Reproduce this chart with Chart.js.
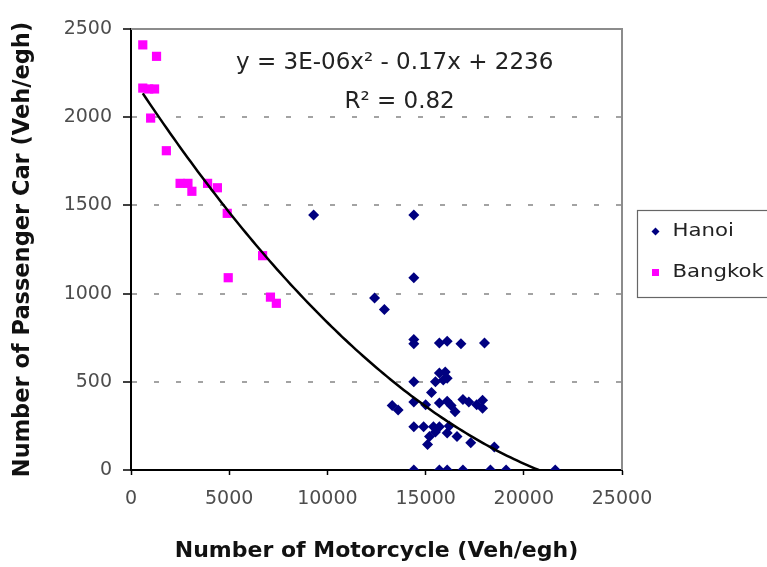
<!DOCTYPE html>
<html>
<head>
<meta charset="utf-8">
<title>Passenger cars vs motorcycles</title>
<script src="https://cdn.jsdelivr.net/npm/chart.js@4.4.1/dist/chart.umd.min.js"></script>
<style>
  html, body { margin: 0; padding: 0; background: #fff; }
  #wrap { width: 767px; height: 567px; }
  canvas { display: block; }
</style>
</head>
<body>
<div id="wrap"><canvas id="chart" width="767" height="567"></canvas></div>
<script>
// Observed flows (veh/egh) per site
const seriesNames = ['Hanoi', 'Bangkok'];

const hanoiMotorcycles = [9300, 14400, 14400, 12400, 12900, 14400, 14400, 15700, 16100, 16800, 18000,
  15700, 16000, 15900, 15500, 16100, 14400, 15300, 13300, 13600, 14400, 15000, 15700, 16100, 16900,
  17200, 17900, 17900, 16500, 16300, 17600, 14400, 14900, 15400, 15700, 16200, 16100, 16600, 15500,
  15200, 15100, 17300, 18500, 14400, 15700, 16100, 16900, 18300, 19100, 21600];
const hanoiCars = [1445, 1445, 1090, 975, 910, 740, 715, 720, 730, 715, 720,
  550, 555, 510, 500, 520, 500, 440, 365, 340, 385, 370, 380, 390, 400,
  385, 395, 350, 330, 365, 370, 245, 245, 245, 245, 250, 210, 190, 215,
  190, 145, 155, 130, 0, 0, 0, 0, 0, 0, 0];

const bangkokMotorcycles = [600, 1300, 600, 900, 1200, 1000, 1800, 2500, 2900, 3100, 3900, 4400, 4900, 6700, 4950, 7100, 7400];
const bangkokCars = [2410, 2345, 2165, 2160, 2160, 1995, 1810, 1625, 1625, 1580, 1625, 1600, 1455, 1215, 1090, 980, 945];

const xTicks = [0, 5000, 10000, 15000, 20000, 25000];
const yTicks = [0, 500, 1000, 1500, 2000, 2500];

// Polynomial trend: y = a*x^2 + b*x + c
const trendCoef = [3e-6, -0.17, 2236];
const trendSpan = [600, 21600];
const trendLabel = 'y = 3E-06x\u00B2 - 0.17x + 2236';
const r2Label = 'R\u00B2 = 0.82';

const xTitle = 'Number of Motorcycle (Veh/egh)';
const yTitle = 'Number of Passenger Car (Veh/egh)';

const HANOI_COLOR = '#000080';
const BANGKOK_COLOR = '#ff00ff';
const FONT = 'DejaVu Sans';

function toPoints(xs, ys) {
  return xs.map((x, i) => ({ x: x, y: ys[i] }));
}

function trendPoints() {
  const pts = [];
  const n = 120;
  const [a, b, c] = trendCoef;
  for (let i = 0; i <= n; i++) {
    const x = trendSpan[0] + (trendSpan[1] - trendSpan[0]) * i / n;
    pts.push({ x: x, y: a * x * x + b * x + c });
  }
  return pts;
}

// Grey frame on the top and right of the plot area
const plotFrame = {
  id: 'plotFrame',
  beforeDatasetsDraw(chart) {
    const { ctx, chartArea: a } = chart;
    ctx.save();
    ctx.strokeStyle = '#8c8c8c';
    ctx.lineWidth = 2;
    ctx.beginPath();
    ctx.moveTo(a.left, a.top);
    ctx.lineTo(a.right, a.top);
    ctx.lineTo(a.right, a.bottom);
    ctx.stroke();
    ctx.restore();
  }
};

// Trend equation and R² inside the plot
const trendText = {
  id: 'trendText',
  afterDatasetsDraw(chart) {
    const { ctx, chartArea: a } = chart;
    ctx.save();
    ctx.fillStyle = '#222';
    ctx.font = '23px "' + FONT + '"';
    ctx.textAlign = 'center';
    ctx.textBaseline = 'middle';
    ctx.fillText(trendLabel, a.left + 0.537 * a.width, a.top + 34);
    ctx.fillText(r2Label, a.left + 0.547 * a.width, a.top + 73);
    ctx.restore();
  }
};

// Boxed legend to the right of the plot
const sideLegend = {
  id: 'sideLegend',
  afterDraw(chart) {
    const { ctx } = chart;
    const box = { x: 637.5, y: 210.5, w: 150, h: 87 };
    ctx.save();
    ctx.fillStyle = '#fff';
    ctx.fillRect(box.x, box.y, box.w, box.h);
    ctx.strokeStyle = '#666';
    ctx.lineWidth = 1.2;
    ctx.strokeRect(box.x, box.y, box.w, box.h);
    const rows = [box.y + 21, box.y + 62];
    chart.data.datasets.forEach((ds, i) => {
      if (!seriesNames.includes(ds.label)) return;
      const y = rows[i];
      const mx = box.x + 18;
      ctx.fillStyle = ds.backgroundColor;
      ctx.beginPath();
      if (ds.pointStyle === 'rectRot') {
        ctx.moveTo(mx, y - 4); ctx.lineTo(mx + 4, y); ctx.lineTo(mx, y + 4); ctx.lineTo(mx - 4, y);
        ctx.closePath();
      } else {
        ctx.rect(mx - 3.5, y - 3.5, 7, 7);
      }
      ctx.fill();
      ctx.save();
      ctx.translate(box.x + 35, y);
      ctx.scale(1.25, 1);
      ctx.fillStyle = '#222';
      ctx.font = '17px "' + FONT + '"';
      ctx.textAlign = 'left';
      ctx.textBaseline = 'middle';
      ctx.fillText(ds.label, 0, 0);
      ctx.restore();
    });
    ctx.restore();
  }
};

const ctx = document.getElementById('chart').getContext('2d');
new Chart(ctx, {
  type: 'scatter',
  data: {
    datasets: [
      {
        label: seriesNames[0],
        data: toPoints(hanoiMotorcycles, hanoiCars),
        pointStyle: 'rectRot',
        pointRadius: 5.5,
        backgroundColor: HANOI_COLOR,
        borderColor: HANOI_COLOR,
        borderWidth: 0,
        order: 2
      },
      {
        label: seriesNames[1],
        data: toPoints(bangkokMotorcycles, bangkokCars),
        pointStyle: 'rect',
        pointRadius: 6.5,
        backgroundColor: BANGKOK_COLOR,
        borderColor: BANGKOK_COLOR,
        borderWidth: 0,
        order: 3
      },
      {
        label: 'Poly. trend',
        type: 'line',
        data: trendPoints(),
        borderColor: '#000',
        borderWidth: 2.5,
        pointRadius: 0,
        fill: false,
        tension: 0,
        clip: 1,
        order: 1
      }
    ]
  },
  options: {
    responsive: false,
    animation: false,
    devicePixelRatio: 1,
    events: [],
    layout: { padding: { left: 0, right: 145, top: 29, bottom: 0 } },
    plugins: {
      legend: { display: false },
      tooltip: { enabled: false }
    },
    scales: {
      x: {
        type: 'linear',
        min: xTicks[0],
        max: xTicks[xTicks.length - 1],
        afterBuildTicks: s => { s.ticks = xTicks.map(v => ({ value: v })); },
        afterFit: s => { s.height = 97; },
        ticks: {
          color: '#4d4d4d',
          font: { family: FONT, size: 19 },
          padding: 13,
          maxRotation: 0,
          callback: v => String(v)
        },
        grid: {
          drawOnChartArea: false,
          drawTicks: true,
          tickLength: 5,
          tickColor: '#000',
          tickWidth: 1.5
        },
        border: { display: true, color: '#000', width: 2 },
        title: {
          display: true,
          text: xTitle,
          color: '#111',
          font: { family: FONT, size: 22, weight: 'bold' },
          padding: { top: 0, bottom: 3 }
        }
      },
      y: {
        type: 'linear',
        min: yTicks[0],
        max: yTicks[yTicks.length - 1],
        afterBuildTicks: s => { s.ticks = yTicks.map(v => ({ value: v })); },
        afterFit: s => { s.width = 131; },
        ticks: {
          color: '#4d4d4d',
          font: { family: FONT, size: 19 },
          padding: 11,
          callback: v => String(v)
        },
        grid: {
          color: c => (c.tick && c.tick.value > yTicks[0] && c.tick.value < yTicks[yTicks.length - 1]) ? '#a3a3a3' : 'rgba(0,0,0,0)',
          lineWidth: 2,
          drawTicks: true,
          tickLength: 8,
          tickColor: '#000',
          tickWidth: 1.5,
          tickBorderDash: []
        },
        border: { display: true, color: '#000', width: 2, dash: [5, 17] },
        title: {
          display: true,
          text: yTitle,
          color: '#111',
          font: { family: FONT, size: 22.5, weight: 'bold' },
          padding: { top: 10, bottom: 0 }
        }
      }
    }
  },
  plugins: [plotFrame, trendText, sideLegend]
});
</script>
</body>
</html>
